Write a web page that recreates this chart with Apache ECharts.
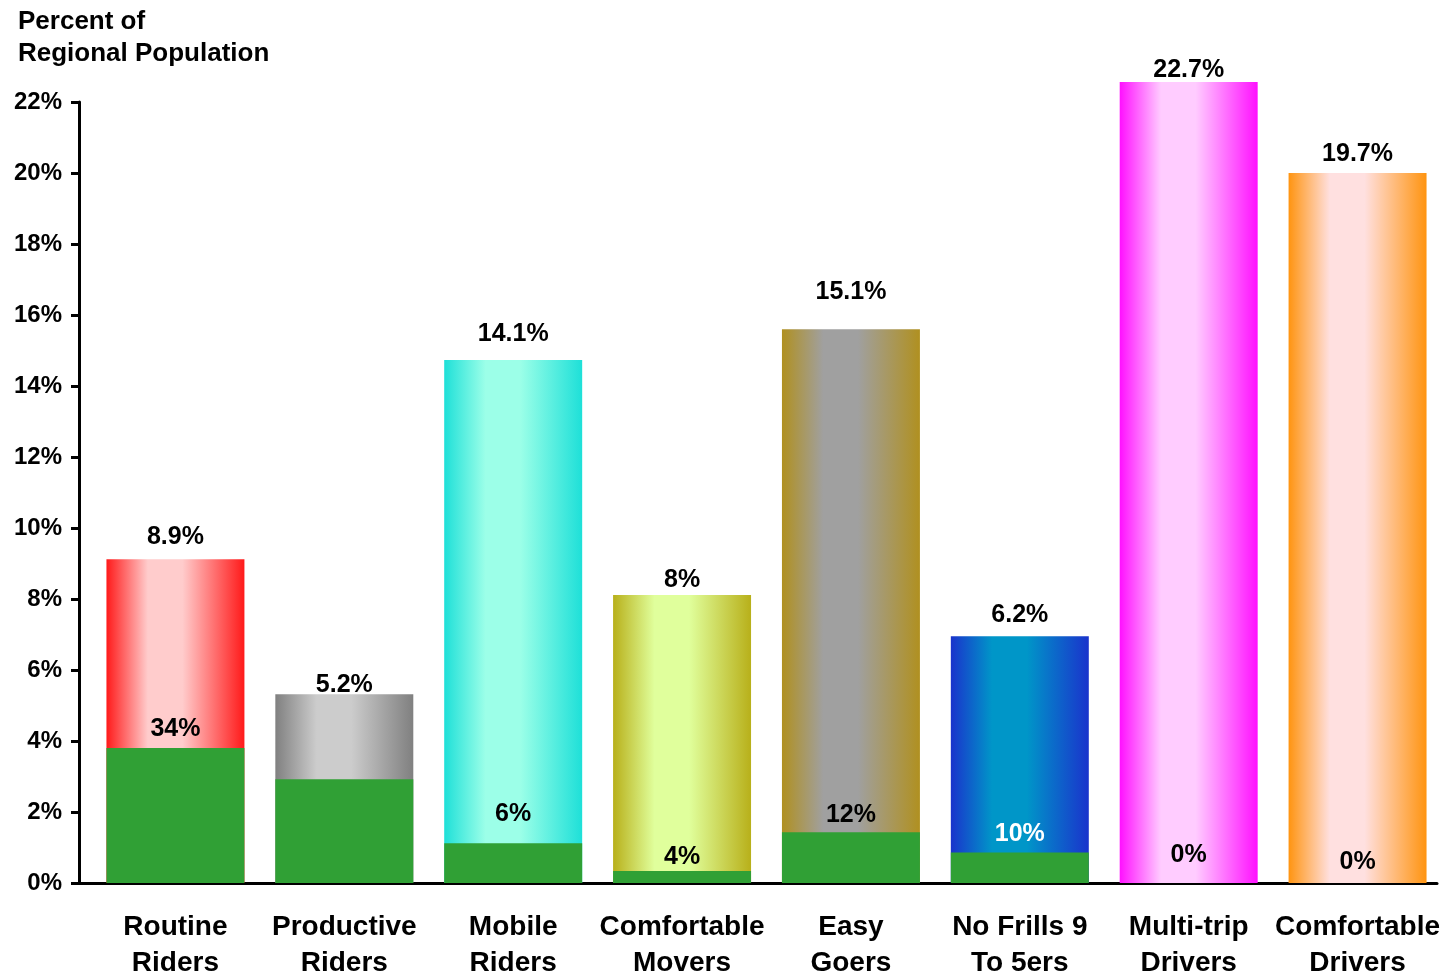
<!DOCTYPE html>
<html>
<head>
<meta charset="utf-8">
<script src="https://cdn.jsdelivr.net/npm/echarts@6/dist/echarts.min.js"></script>
<style>
  html, body { margin: 0; padding: 0; background: #fff; }
  #segments { width: 1449px; height: 976px; }
</style>
</head>
<body>
<div id="segments"></div>
<script>
// Segment share of regional population, with the transit share inside each bar
const categories = [
  "Routine\nRiders", "Productive\nRiders", "Mobile\nRiders", "Comfortable\nMovers",
  "Easy\nGoers", "No Frills 9\nTo 5ers", "Multi-trip\nDrivers", "Comfortable\nDrivers"
];
// bar heights as drawn (percent of population)
const segmentHeights = [9.12, 5.32, 14.73, 8.11, 15.6, 6.95, 22.56, 20.0];
const segmentLabels = ["8.9%", "5.2%", "14.1%", "8%", "15.1%", "6.2%", "22.7%", "19.7%"];
// green inner bar heights and their labels
const transitHeights = [3.8, 2.92, 1.12, 0.34, 1.43, 0.86, 0, 0];
const transitLabels = ["34%", null, "6%", "4%", "12%", "10%", "0%", "0%"];
const yTicks = [0, 22, 2]; // min, max, step

(function() {
  const font = "'Liberation Sans', Arial, sans-serif";
  // edge colour / centre colour of each bar's horizontal gradient
  const barColors = [
    ["#ff1a1a", "#ffcccc"],
    ["#808080", "#cccccc"],
    ["#1ee0d8", "#9cffe8"],
    ["#b8b01a", "#e0ff9c"],
    ["#b09020", "#a0a0a0"],
    ["#1a33cc", "#0096c8"],
    ["#ff10ff", "#ffccff"],
    ["#ff9410", "#ffe0e0"]
  ];
  const topGap = [10, -3, 13, 2, 25, 9, 0, 6];
  const innerGap = [6, 0, 17, 1, 5, 6, 15, 8];

  const gradient = (c) => new echarts.graphic.LinearGradient(0, 0, 1, 0, [
    { offset: 0, color: c[0] },
    { offset: 0.3, color: c[1] },
    { offset: 0.55, color: c[1] },
    { offset: 1, color: c[0] }
  ]);

  const labelText = {
    fontFamily: font,
    fontWeight: "bold",
    fontSize: 25,
    color: "#000"
  };

  const option = {
    animation: false,
    backgroundColor: "#fff",
    title: {
      text: "Percent of\nRegional Population",
      left: 13,
      top: 1,
      textStyle: {
        fontFamily: font,
        fontWeight: "bold",
        fontSize: 26,
        lineHeight: 32,
        color: "#000"
      }
    },
    grid: [
      { left: 79, right: 12, top: 102, bottom: 93, outerBoundsMode: "none" },
      { left: 91, right: 7, top: 102, bottom: 93, outerBoundsMode: "none" }
    ],
    xAxis: [
      {
        type: "category",
        gridIndex: 0,
        data: categories,
        axisLine: { lineStyle: { color: "#000", width: 3 } },
        axisTick: { show: false },
        axisLabel: { show: false }
      },
      {
        type: "category",
        gridIndex: 1,
        data: categories,
        axisLine: { show: false },
        axisTick: { show: false },
        axisLabel: {
          interval: 0,
          margin: 26,
          fontFamily: font,
          fontWeight: "bold",
          fontSize: 28,
          lineHeight: 36,
          color: "#000"
        }
      }
    ],
    yAxis: [
      {
        type: "value",
        gridIndex: 0,
        min: yTicks[0],
        max: yTicks[1],
        interval: yTicks[2],
        axisLine: { show: true, lineStyle: { color: "#000", width: 3 } },
        axisTick: { show: true, length: 8, lineStyle: { color: "#000", width: 3 } },
        splitLine: { show: false },
        axisLabel: {
          margin: 17,
          formatter: "{value}%",
          fontFamily: font,
          fontWeight: "bold",
          fontSize: 24,
          color: "#000"
        }
      },
      {
        type: "value",
        gridIndex: 1,
        min: yTicks[0],
        max: yTicks[1],
        show: false
      }
    ],
    series: [
      {
        type: "bar",
        xAxisIndex: 1,
        yAxisIndex: 1,
        barWidth: "81.7%",
        clip: false,
        data: segmentHeights.map((v, i) => ({
          value: v,
          itemStyle: { color: gradient(barColors[i]) },
          label: {
            show: true,
            position: "top",
            distance: topGap[i],
            formatter: segmentLabels[i],
            ...labelText
          }
        }))
      },
      {
        type: "bar",
        xAxisIndex: 1,
        yAxisIndex: 1,
        barWidth: "81.7%",
        barGap: "-100%",
        clip: false,
        itemStyle: { color: "#30a035" },
        data: transitHeights.map((v, i) => ({
          value: v,
          label: {
            show: transitLabels[i] !== null,
            position: "top",
            distance: innerGap[i],
            formatter: transitLabels[i] || "",
            ...labelText,
            color: i === 5 ? "#fff" : "#000"
          }
        }))
      }
    ]
  };

  const chart = echarts.init(document.getElementById("segments"));
  chart.setOption(option);
  window.addEventListener("resize", () => chart.resize());
})();
</script>
</body>
</html>
